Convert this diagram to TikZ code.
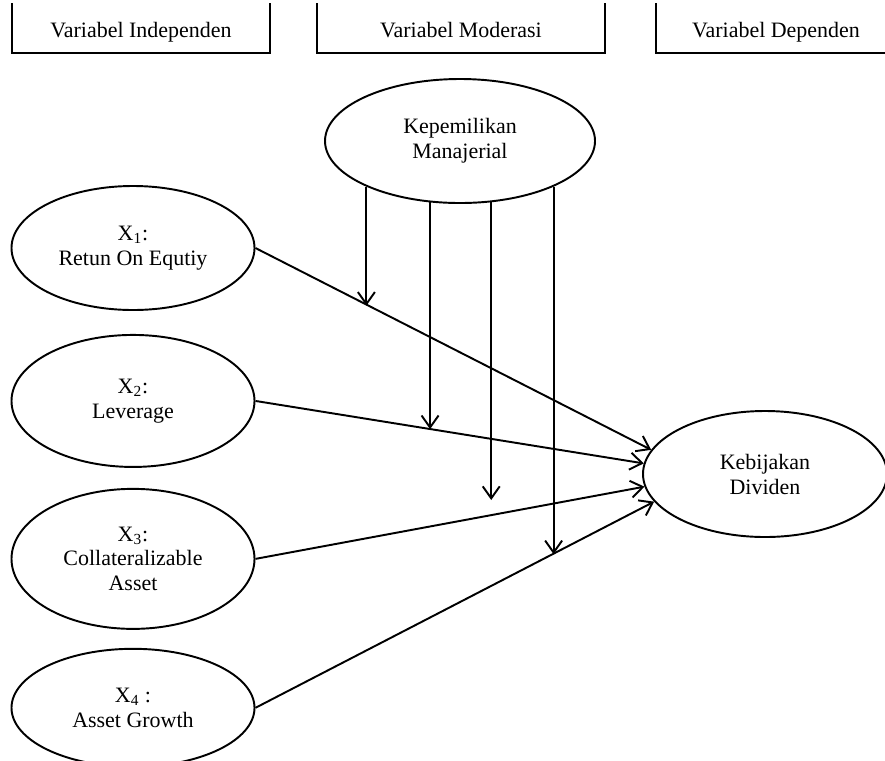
\documentclass[tikz,border=0pt]{standalone}
\usepackage{fontspec}
\setmainfont{Liberation Serif}
\usepackage{tikz}
\usetikzlibrary{arrows.meta,positioning,calc,shapes.geometric}
\tikzset{
    varnode/.style={draw, ellipse, line width=1.1pt, inner sep=0pt, align=center},
    header/.style={minimum height=0.88cm, inner sep=0pt, text height=2.3ex, text depth=0.6ex},
    effect/.style={-{Straight Barb[length=2.4mm, width=3.4mm]}, line width=1.1pt},
    openbox/.style={line width=1.1pt}
}

\begin{document}
\begin{tikzpicture}[font=\fontsize{12.5}{14.2}\selectfont]
\useasboundingbox (0,0.06) rectangle (17.7,-15.14);
\clip (0,0.06) rectangle (17.7,-15.14);
\coordinate (top) at (0,0);

% header boxes (open at the top)
\node[header, minimum width=5.16cm] (hA) at (2.82,-0.56) {Variabel Independen};
\node[header, minimum width=5.76cm] (hB) at (9.22,-0.56) {Variabel Moderasi};
\node[header, minimum width=4.8cm] (hC) at (15.52,-0.56) {Variabel Dependen};
\draw[openbox] (hA.south west |- top) -- (hA.south west) -- (hA.south east) -- (hA.south east |- top);
\draw[openbox] (hB.south west |- top) -- (hB.south west) -- (hB.south east) -- (hB.south east |- top);
\draw[openbox] (hC.south west |- top) -- (hC.south west) -- (hC.south east) -- (hC.south east |- top);

% variables
\node[varnode, minimum width=5.4cm, minimum height=2.48cm] (KM) at (9.2,-2.76) {Kepemilikan\\Manajerial};
\node[varnode, minimum width=4.86cm, minimum height=2.48cm] (X1) at (2.66,-4.9) {X\textsubscript{1}:\\Retun On Equtiy};
\node[varnode, minimum width=4.86cm, minimum height=2.64cm, below=0.46cm of X1] (X2) {X\textsubscript{2}:\\Leverage};
\node[varnode, minimum width=4.86cm, minimum height=2.8cm, below=0.4cm of X2] (X3) {X\textsubscript{3}:\\Collateralizable\\Asset};
\node[varnode, minimum width=4.86cm, minimum height=2.36cm, below=0.36cm of X3] (X4) {X\textsubscript{4} :\\Asset Growth};
\node[varnode, minimum width=4.88cm, minimum height=2.52cm] (KD) at (15.3,-9.42) {Kebijakan\\Dividen};

% direct effects
\draw[effect] (X1.east) -- (KD.168);
\draw[effect] (X2.east) -- (KD.175);
\draw[effect] (X3.east) -- (KD.186);
\draw[effect] (X4.east) -- (KD.194);

% moderation
\coordinate (m1) at ($(X1.east)!0.286!(KD.168)$);
\coordinate (m2) at ($(X2.east)!0.452!(KD.175)$);
\coordinate (m3) at (9.86,-9.94);
\coordinate (m4) at ($(X4.east)!0.745!(KD.194)$);
\draw[effect] (KM.206) -- (KM.206 |- m1);
\draw[effect] (KM.244) -- (KM.244 |- m2);
\draw[effect] (KM.297.6) -- (KM.297.6 |- m3);
\draw[effect] (KM.334) -- (KM.334 |- m4);
\end{tikzpicture}
\end{document}
